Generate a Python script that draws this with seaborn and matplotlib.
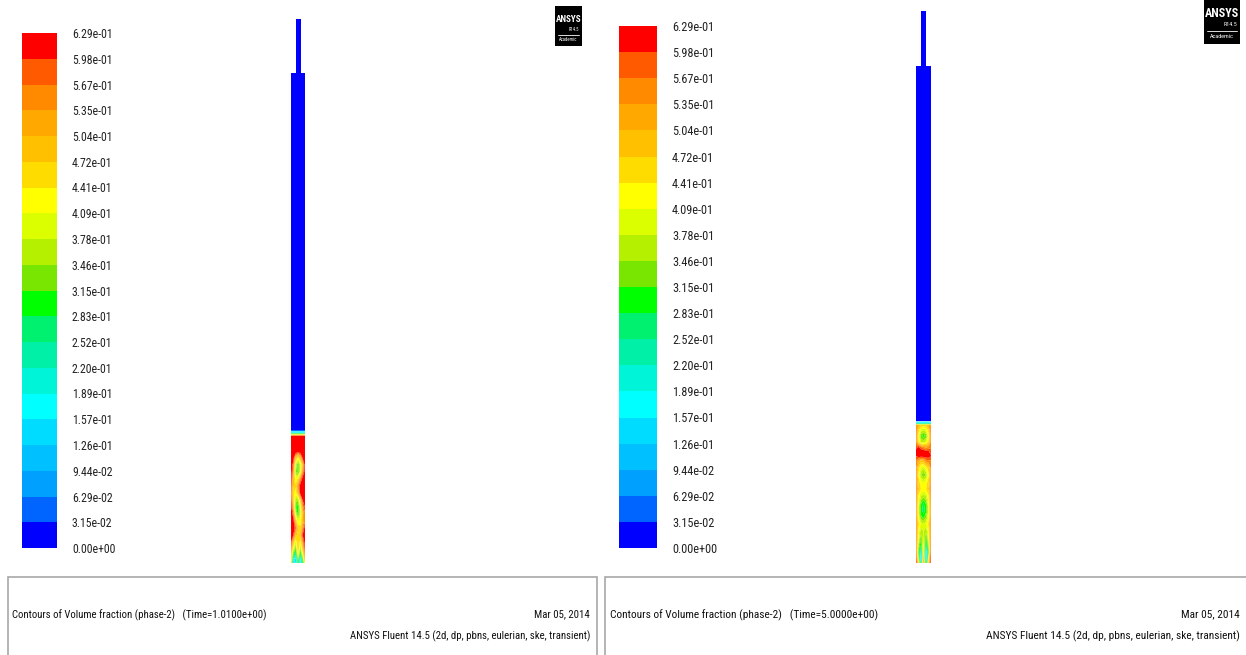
import numpy as np
import pandas as pd
import matplotlib
matplotlib.use("Agg")
import matplotlib.pyplot as plt
from matplotlib.colors import ListedColormap, BoundaryNorm
from matplotlib.patches import Rectangle
from matplotlib import font_manager
from matplotlib.font_manager import FontProperties
import seaborn as sns

sns.set_theme(style="white")

# ---------------- data ----------------
level_labels = ["6.29e-01", "5.98e-01", "5.67e-01", "5.35e-01", "5.04e-01", "4.72e-01",
                "4.41e-01", "4.09e-01", "3.78e-01", "3.46e-01", "3.15e-01", "2.83e-01",
                "2.52e-01", "2.20e-01", "1.89e-01", "1.57e-01", "1.26e-01", "9.44e-02",
                "6.29e-02", "3.15e-02", "0.00e+00"]
band_colors_top_down = ["#ff0000", "#ff5a00", "#ff8a00", "#ffa800", "#ffc000", "#ffdc00",
                        "#ffff00", "#dcff00", "#b4f000", "#78e600", "#00ff00", "#00f070",
                        "#00f0a8", "#00f5d8", "#00ffff", "#00dcff", "#00c0ff", "#00a0ff",
                        "#0064ff", "#0000ff"]

time_labels = ["1.0100e+00", "5.0000e+00"]
date_label = "Mar 05, 2014"
solver_label = "ANSYS Fluent 14.5 (2d, dp, pbns, eulerian, ske, transient)"

# radial sample positions (fraction of column width)
radial_pos = [0.0, 1 / 6, 2 / 6, 3 / 6, 4 / 6, 5 / 6, 1.0]

# left panel (t = 1.01 s): elevation above distributor, volume fraction rows (top -> bottom)
left_heights = [490, 133, 131.5, 130, 127, 118, 111, 105, 98, 91, 84, 77, 70, 63, 56, 49,
                42, 35, 28, 21, 14, 8, 3, 0]
left_values = [
    [0.00, 0.00, 0.00, 0.00, 0.00, 0.00, 0.00],
    [0.00, 0.00, 0.00, 0.00, 0.00, 0.00, 0.00],
    [0.15, 0.15, 0.15, 0.15, 0.15, 0.15, 0.15],
    [0.20, 0.20, 0.20, 0.20, 0.20, 0.20, 0.20],
    [0.62, 0.62, 0.62, 0.62, 0.62, 0.62, 0.62],
    [0.62, 0.62, 0.62, 0.62, 0.62, 0.62, 0.62],
    [0.62, 0.62, 0.62, 0.60, 0.62, 0.62, 0.62],
    [0.62, 0.62, 0.50, 0.42, 0.50, 0.60, 0.62],
    [0.62, 0.58, 0.38, 0.30, 0.38, 0.50, 0.62],
    [0.62, 0.55, 0.35, 0.30, 0.40, 0.55, 0.62],
    [0.62, 0.50, 0.42, 0.45, 0.55, 0.62, 0.62],
    [0.60, 0.48, 0.45, 0.55, 0.62, 0.62, 0.62],
    [0.58, 0.45, 0.42, 0.50, 0.62, 0.62, 0.62],
    [0.60, 0.48, 0.36, 0.35, 0.48, 0.60, 0.62],
    [0.62, 0.52, 0.32, 0.28, 0.40, 0.55, 0.60],
    [0.62, 0.58, 0.38, 0.30, 0.38, 0.50, 0.56],
    [0.62, 0.62, 0.50, 0.40, 0.42, 0.50, 0.56],
    [0.62, 0.62, 0.58, 0.48, 0.45, 0.55, 0.62],
    [0.62, 0.60, 0.50, 0.45, 0.50, 0.60, 0.62],
    [0.60, 0.50, 0.40, 0.48, 0.42, 0.55, 0.62],
    [0.55, 0.40, 0.32, 0.48, 0.35, 0.48, 0.60],
    [0.50, 0.30, 0.22, 0.42, 0.25, 0.40, 0.55],
    [0.45, 0.20, 0.12, 0.32, 0.15, 0.30, 0.50],
    [0.40, 0.22, 0.15, 0.30, 0.18, 0.28, 0.45],
]

# right panel (t = 5.0 s)
right_heights = [497, 142.5, 141, 139.5, 138, 133, 127, 121, 116, 112, 107, 102, 95, 88, 81,
                 74, 67, 60, 53, 46, 39, 32, 25, 18, 11, 5, 0]
right_values = [
    [0.00, 0.00, 0.00, 0.00, 0.00, 0.00, 0.00],
    [0.00, 0.00, 0.00, 0.00, 0.00, 0.00, 0.00],
    [0.15, 0.15, 0.15, 0.15, 0.15, 0.15, 0.15],
    [0.22, 0.22, 0.22, 0.22, 0.22, 0.22, 0.22],
    [0.55, 0.50, 0.47, 0.46, 0.47, 0.50, 0.55],
    [0.58, 0.46, 0.40, 0.38, 0.40, 0.46, 0.58],
    [0.56, 0.42, 0.32, 0.30, 0.32, 0.42, 0.56],
    [0.55, 0.45, 0.38, 0.36, 0.40, 0.45, 0.55],
    [0.58, 0.60, 0.57, 0.54, 0.52, 0.54, 0.56],
    [0.62, 0.62, 0.62, 0.62, 0.60, 0.60, 0.58],
    [0.60, 0.62, 0.62, 0.62, 0.62, 0.62, 0.60],
    [0.56, 0.52, 0.48, 0.50, 0.55, 0.56, 0.56],
    [0.55, 0.46, 0.40, 0.38, 0.42, 0.46, 0.55],
    [0.55, 0.43, 0.35, 0.32, 0.35, 0.43, 0.55],
    [0.55, 0.46, 0.42, 0.40, 0.42, 0.46, 0.55],
    [0.56, 0.48, 0.44, 0.44, 0.44, 0.48, 0.56],
    [0.55, 0.43, 0.38, 0.36, 0.38, 0.43, 0.55],
    [0.55, 0.41, 0.32, 0.28, 0.32, 0.41, 0.55],
    [0.55, 0.39, 0.30, 0.26, 0.30, 0.39, 0.55],
    [0.55, 0.41, 0.32, 0.30, 0.34, 0.41, 0.55],
    [0.55, 0.45, 0.40, 0.38, 0.40, 0.45, 0.55],
    [0.55, 0.43, 0.36, 0.38, 0.35, 0.43, 0.55],
    [0.56, 0.41, 0.32, 0.40, 0.30, 0.41, 0.56],
    [0.57, 0.36, 0.28, 0.42, 0.25, 0.36, 0.58],
    [0.58, 0.31, 0.20, 0.45, 0.15, 0.31, 0.60],
    [0.60, 0.36, 0.10, 0.50, 0.10, 0.41, 0.62],
    [0.62, 0.46, 0.20, 0.55, 0.20, 0.46, 0.62],
]


# ---------------- fonts ----------------
def pick_font():
    ttf = font_manager.fontManager.ttflist
    names = {f.name for f in ttf}
    for n in ["Liberation Sans Narrow", "Arial Narrow", "Roboto Condensed",
              "Open Sans Condensed", "Noto Sans Condensed", "DejaVu Sans Condensed"]:
        if n in names:
            return FontProperties(family=n)
    cond = ("condensed", "semi-condensed", "extra-condensed", "ultra-condensed")
    for fam in ["Roboto", "Noto Sans", "Open Sans", "DejaVu Sans", "Liberation Sans", "Lato", "Inter"]:
        for f in ttf:
            st = f.stretch
            is_cond = (str(st) in cond) or (isinstance(st, (int, float)) and st < 500)
            if f.name == fam and is_cond and f.style == "normal" and str(f.weight) in ("400", "normal", "regular"):
                return FontProperties(fname=f.fname)
    for n in ["Roboto", "Liberation Sans"]:
        if n in names:
            return FontProperties(family=n)
    return FontProperties(family="DejaVu Sans")


FP = pick_font()

# ---------------- layout (pixels) ----------------
W, H = 1246, 655
fig = plt.figure(figsize=(W / 100, H / 100), dpi=100)
fig.patch.set_facecolor("white")
renderer = fig.canvas.get_renderer()


def rect(x0, y0, x1, y1):
    return [x0 / W, 1 - y1 / H, (x1 - x0) / W, (y1 - y0) / H]


def fit_size(text, target_px, fp=FP, base=10.0):
    t = fig.text(0, 0, text, fontproperties=fp, fontsize=base)
    w = t.get_window_extent(renderer).width
    t.remove()
    return base * target_px / w


def ftext(x, y, s, size, **kw):
    fp = FP.copy()
    fp.set_size(size)
    return fig.text(x / W, 1 - y / H, s, fontproperties=fp, **kw)


levels = np.array([float(s) for s in level_labels[::-1]])
colors_bottom_up = band_colors_top_down[::-1]
cmap = ListedColormap(colors_bottom_up)
norm = BoundaryNorm(levels, cmap.N)
band_mids = (levels[:-1] + levels[1:]) / 2

panels = [
    dict(bar=(22, 33, 57, 548), lab_w=40, lab_x=72,
         col=(291, 305), tube=(295.5, 300.5), tube_top=19, col_top=73, col_bot=563,
         heights=left_heights, values=left_values, time=time_labels[0],
         box=(8, 577, 597), txt_x=12, cap_w=252, right_x=590,
         logo=(555, 6, 582, 46)),
    dict(bar=(619, 26, 657, 548), lab_w=42, lab_x=672,
         col=(916, 931), tube=(920.5, 926), tube_top=11, col_top=66, col_bot=563,
         heights=right_heights, values=right_values, time=time_labels[1],
         box=(605, 577, 1260), txt_x=610, cap_w=268, right_x=1240,
         logo=(1204, -2, 1240, 44)),
]

for p in panels:
    # colour bar
    bx0, by0, bx1, by1 = p["bar"]
    axc = fig.add_axes(rect(bx0, by0, bx1, by1))
    df = pd.DataFrame({"vf": band_mids[::-1]})
    sns.heatmap(df, ax=axc, cmap=cmap, vmin=levels[0], vmax=levels[-1], cbar=False,
                xticklabels=False, yticklabels=False)
    lab_fp = FP.copy()
    lab_fp.set_size(fit_size(level_labels[0], p["lab_w"]))
    axc.set_yticks(np.arange(len(level_labels)))
    axc.set_yticklabels(level_labels, fontproperties=lab_fp, color="#222222")
    axc.yaxis.tick_right()
    axc.tick_params(axis="y", length=0, pad=(p["lab_x"] - bx1) * 0.72,
                    labelright=True, labelleft=False)
    for s in axc.spines.values():
        s.set_visible(False)

    # domain
    cx0, cx1 = p["col"]
    cw = cx1 - cx0
    col_h = p["col_bot"] - p["col_top"]
    tube_h = p["col_top"] - p["tube_top"]
    axd = fig.add_axes(rect(cx0, p["tube_top"], cx1, p["col_bot"]))
    hs = np.array(p["heights"][::-1], dtype=float)
    vals = np.array(p["values"][::-1], dtype=float)
    xs = np.array(radial_pos) * cw
    Xg, Yg = np.meshgrid(xs, hs)
    axd.contourf(Xg, Yg, vals, levels=levels, colors=colors_bottom_up, antialiased=True)
    tx0, tx1 = p["tube"]
    axd.pcolormesh([tx0 - cx0, tx1 - cx0], [col_h, col_h + tube_h], [[0.0]], cmap=cmap, norm=norm)
    axd.set_xlim(0, cw)
    axd.set_ylim(0, col_h + tube_h)
    axd.axis("off")

    # logo
    lx0, ly0, lx1, ly1 = p["logo"]
    fig.add_artist(Rectangle((lx0 / W, 1 - ly1 / H), (lx1 - lx0) / W, (ly1 - ly0) / H,
                             transform=fig.transFigure, facecolor="black", edgecolor="none"))
    lw_ = lx1 - lx0
    lh_ = ly1 - ly0
    bold = FP.copy()
    bold.set_weight("bold")
    bold.set_size(fit_size("ANSYS", lw_ * 0.95, fp=bold))
    fig.text((lx0 + lx1) / 2 / W, 1 - (ly0 + lh_ * 0.33) / H, "ANSYS", color="white",
             fontproperties=bold, ha="center", va="center")
    ftext(lx1 - 3, ly0 + lh_ * 0.58, "R14.5", fit_size("R14.5", lw_ * 0.38),
          color="white", ha="right", va="center")
    fig.add_artist(plt.Line2D([(lx0 + 3) / W, (lx1 - 3) / W],
                              [1 - (ly0 + lh_ * 0.72) / H] * 2,
                              transform=fig.transFigure, color="white", lw=0.6))
    ftext((lx0 + lx1) / 2, ly0 + lh_ * 0.84, "Academic", fit_size("Academic", lw_ * 0.66),
          color="white", ha="center", va="center")

    # caption box
    x0, y0, x1 = p["box"]
    fig.add_artist(Rectangle((x0 / W, -0.05), (x1 - x0) / W, (H - y0) / H + 0.05,
                             transform=fig.transFigure, facecolor="none",
                             edgecolor="#a8a8a8", lw=1.2))
    cap = "Contours of Volume fraction (phase-2)   (Time=%s)" % p["time"]
    cap_fs = fit_size(cap, p["cap_w"])
    ftext(p["txt_x"], 615, cap, cap_fs, ha="left", va="center", color="#111111")
    ftext(p["right_x"], 614, date_label, cap_fs, ha="right", va="center", color="#111111")
    ftext(p["right_x"], 636, solver_label, cap_fs, ha="right", va="center", color="#111111")

fig.savefig("out.png", dpi=100, facecolor="white")
